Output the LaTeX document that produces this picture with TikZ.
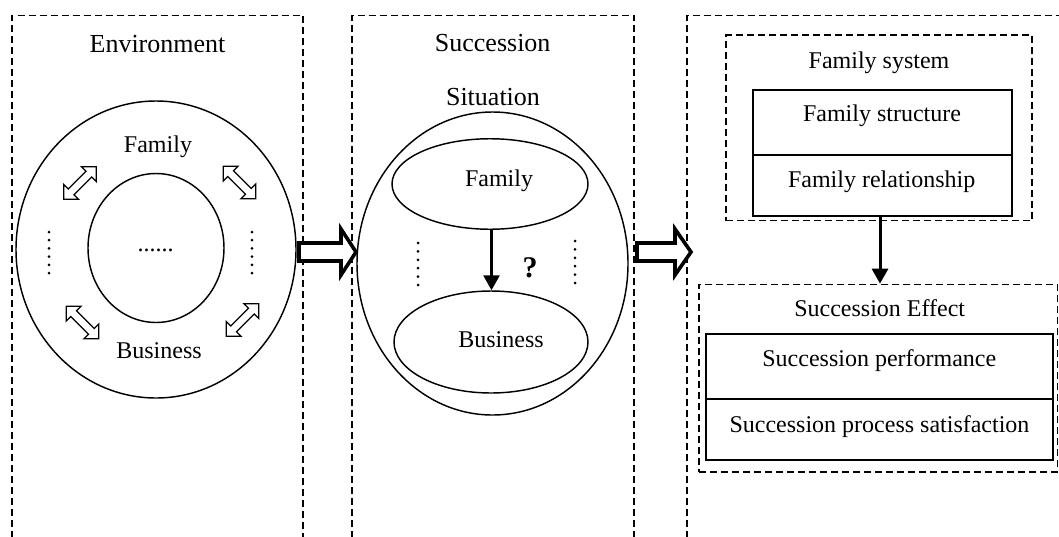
\documentclass[tikz,border=0pt]{standalone}
\usepackage{fontspec}
\setmainfont{Liberation Serif}
\usetikzlibrary{shapes.geometric,arrows.meta}
\begin{document}
\begin{tikzpicture}[x=1pt,y=-1pt,
  panel/.style={dash pattern=on 7pt off 4pt, line width=1.45pt},
  ttl/.style={anchor=base, font=\fontsize{26}{30}\selectfont, inner sep=0},
  lbl/.style={anchor=base, font=\fontsize{24}{28}\selectfont, inner sep=0},
  ell/.style={ellipse, draw, line width=1.45pt, inner sep=0},
  solidbox/.style={draw, line width=2.2pt, inner sep=0},
  dashbox/.style={draw, panel, inner sep=0},
  blockarrow/.style={line width=3.6pt, fill=white, line join=miter, miter limit=10},
  arr/.style={line width=2.6pt, -{Triangle[length=15pt,width=16pt]}},
  dotv/.style={fill=black},
  dblarr/.pic={\draw[line width=1.25pt, fill=white, line join=miter]
     (-23,0) -- (-12.5,-10.5) -- (-12.5,-4) -- (12.5,-4) -- (12.5,-10.5) -- (23,0)
     -- (12.5,10.5) -- (12.5,4) -- (-12.5,4) -- (-12.5,10.5) -- cycle;}
]
\useasboundingbox (0,0) rectangle (1059,536);
\clip (0,0) rectangle (1059,536);

% panels
\draw[panel] (12,560) -- (12,15.5) -- (303,15.5) -- (303,560);
\draw[panel] (352,560) -- (352,15.5) -- (634,15.5) -- (634,560);
\draw[panel] (687,560) -- (687,15.5) -- (1080,15.5);

% ---------- left panel: Environment ----------
\node[ttl] (envtitle) at (157.5,52) {Environment};
\node[ell, minimum width=280pt, minimum height=297pt] (envout) at (156,249.5) {};
\node[ell, minimum width=136pt, minimum height=149pt] (envin) at (156,248) {};
\node[lbl] (envfam) at (158,152) {Family};
\node[lbl] (envbus) at (159,358) {Business};
\node[lbl] (envdots) at (155.5,251) {......};
\pic[rotate=45] at (80,183) {dblarr};
\pic[rotate=-45] at (239.5,182.5) {dblarr};
\pic[rotate=-45] at (82.5,322.5) {dblarr};
\pic[rotate=45] at (242.5,320) {dblarr};
\foreach \yy in {0,1,2,3,4,5} {
  \fill[dotv] (49,232+8.2*\yy) circle (1.5);
  \fill[dotv] (252,232+8.2*\yy) circle (1.5);
}

% ---------- middle panel: Succession Situation ----------
\node[ttl] (sstitle1) at (492.7,51) {Succession};
\node[ttl] (sstitle2) at (493,105) {Situation};
\node[ell, minimum width=271pt, minimum height=303pt] (ssout) at (492.5,263.5) {};
\node[ell, minimum width=196pt, minimum height=90.5pt] (ssfam) at (490,184) {};
\node[ell, minimum width=194pt, minimum height=102pt] (ssbus) at (491,342) {};
\node[lbl] (ssfamtxt) at (499,186) {Family};
\node[lbl] (ssbustxt) at (501,347) {Business};
\node[anchor=base, inner sep=0, font=\fontsize{30}{34}\selectfont\bfseries] (ssq) at (530,277) {?};
\draw[arr] (491.5,229.25) coordinate (famb) -- (famb |- ssbus.north);
\foreach \yy in {0,1,2,3,4,5} {
  \fill[dotv] (418,243+8.4*\yy) circle (1.5);
  \fill[dotv] (575,241+8.4*\yy) circle (1.5);
}

% ---------- right panel ----------
\node[dashbox, minimum width=306pt, minimum height=185.5pt] (fsys) at (879,127.75) {};
\node[lbl] (fsystxt) at (879,68) {Family system};
\node[solidbox, minimum width=259pt, minimum height=126.4pt] (fbox) at (882.2,152.8) {};
\draw[line width=1.4pt] (fbox.west |- 0,155) -- (fbox.east |- 0,155);
\node[lbl] (fstruct) at (882,121.4) {Family structure};
\node[lbl] (frel) at (881.7,187) {Family relationship};

\node[dashbox, minimum width=358.5pt, minimum height=187.4pt] (seff) at (878.25,378.1) {};
\node[lbl] (sefftxt) at (879.7,316) {Succession Effect};
\node[solidbox, minimum width=347pt, minimum height=126pt] (sbox) at (879.2,397) {};
\draw[line width=1.4pt] (sbox.west |- 0,399) -- (sbox.east |- 0,399);
\node[lbl] (sperf) at (879.3,366.5) {Succession performance};
\node[lbl] (ssat) at (879.5,432.5) {Succession process satisfaction};

\draw[arr, line width=3pt] (880,216) coordinate (fb) -- (fb |- seff.north);

% ---------- block arrows ----------
\draw[blockarrow] (299,243) -- (341,243) -- (341,229) -- (356,252) -- (341,275) -- (341,261) -- (299,261) -- cycle;
\draw[blockarrow] (637,243) -- (675,243) -- (675,229) -- (691,252) -- (675,275) -- (675,261) -- (637,261) -- cycle;
\end{tikzpicture}
\end{document}
